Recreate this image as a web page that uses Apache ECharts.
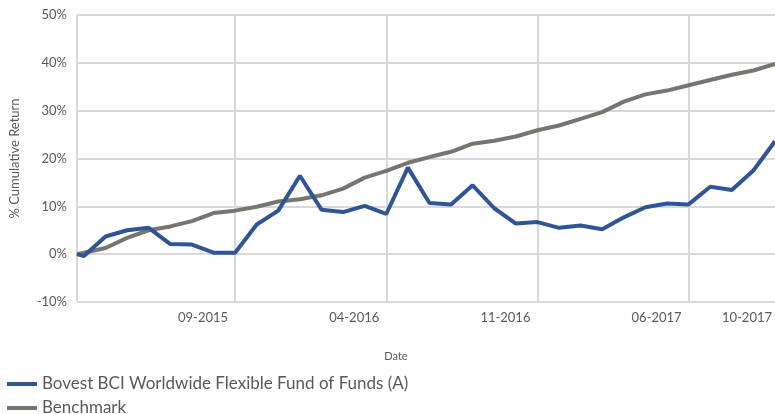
<!DOCTYPE html>
<html>
<head>
<meta charset="utf-8">
<script src="https://cdn.jsdelivr.net/npm/echarts@6/dist/echarts.min.js"></script>
<style>
  html, body { margin: 0; padding: 0; background: #ffffff; }
  #chart { width: 775px; height: 414px; }
</style>
</head>
<body>
<div id="chart"></div>
<script>
// Valuation dates (launch date, then month ends)
const dates = [
  '2015-02-19', '2015-02-28', '2015-03-31', '2015-04-30', '2015-05-31', '2015-06-30',
  '2015-07-31', '2015-08-31', '2015-09-30', '2015-10-31', '2015-11-30', '2015-12-31',
  '2016-01-31', '2016-02-29', '2016-03-31', '2016-04-30', '2016-05-31', '2016-06-30',
  '2016-07-31', '2016-08-31', '2016-09-30', '2016-10-31', '2016-11-30', '2016-12-31',
  '2017-01-31', '2017-02-28', '2017-03-31', '2017-04-30', '2017-05-31', '2017-06-30',
  '2017-07-31', '2017-08-31', '2017-09-30', '2017-10-31'
];

// Cumulative returns, %
const fundReturns = [
  0, -0.4, 3.7, 5.0, 5.5, 2.1, 2.0, 0.3, 0.3, 6.2, 9.1, 16.4,
  9.3, 8.8, 10.1, 8.4, 18.1, 10.7, 10.4, 14.4, 9.6, 6.4, 6.7, 5.5,
  6.0, 5.2, 7.7, 9.8, 10.6, 10.4, 14.1, 13.4, 17.5, 23.6
];
const benchmarkReturns = [
  0, 0.3, 1.3, 3.4, 5.0, 5.8, 6.9, 8.6, 9.1, 9.9, 11.0, 11.5,
  12.3, 13.7, 16.0, 17.4, 19.1, 20.3, 21.4, 23.1, 23.7, 24.6, 25.9, 26.9,
  28.3, 29.7, 31.9, 33.4, 34.2, 35.3, 36.4, 37.5, 38.4, 39.8
];

// Dates marked on the horizontal axis
const tickDates = ['2015-09-30', '2016-04-30', '2016-11-30', '2017-06-30', '2017-10-31'];
const tickLabels = ['09-2015', '04-2016', '11-2016', '06-2017', '10-2017'];

const seriesNames = ['Bovest BCI Worldwide Flexible Fund of Funds (A)', 'Benchmark'];

// Convert a date to a position in months (fraction of month by day)
function monthPos(s) {
  const [y, m, d] = s.split('-').map(Number);
  const dim = new Date(y, m, 0).getDate();
  return (y - 2015) * 12 + (m - 1) + d / dim;
}

const xs = dates.map(monthPos);
const tickXs = tickDates.map(monthPos);
const gridXs = [xs[0]].concat(tickXs.slice(0, 4));

const fundData = xs.map((x, i) => [x, fundReturns[i]]);
const benchData = xs.map((x, i) => [x, benchmarkReturns[i]]);

const gridColor = '#d9d9d9';
const textColor = '#595959';
const font = 'Lato, "Open Sans", sans-serif';

const chart = echarts.init(document.getElementById('chart'), null, { renderer: 'canvas' });

chart.setOption({
  animation: false,
  textStyle: { fontFamily: font },
  grid: { left: 76, right: 0, top: 15, bottom: 112, containLabel: false },
  legend: {
    orient: 'vertical',
    left: 7,
    top: 372,
    height: 120,
    padding: 0,
    itemWidth: 30,
    itemHeight: 4,
    itemGap: 0,
    icon: 'rect',
    data: seriesNames,
    textStyle: { fontSize: 17, lineHeight: 16, color: textColor, fontFamily: font, padding: [0, 0, 8, 0] }
  },
  xAxis: {
    type: 'value',
    min: xs[0],
    max: xs[xs.length - 1],
    name: 'Date',
    nameLocation: 'middle',
    nameGap: 49,
    nameTextStyle: { fontSize: 11, color: textColor, padding: [0, 60, 0, 0] },
    axisLine: { show: true, lineStyle: { color: gridColor, width: 2 } },
    axisTick: {
      show: true,
      inside: false,
      length: 18,
      customValues: gridXs,
      lineStyle: { color: gridColor, width: 2 }
    },
    splitLine: { show: true, lineStyle: { color: gridColor, width: 2 } },
    axisLabel: {
      customValues: tickXs,
      margin: 9,
      fontSize: 13,
      color: textColor,
      align: 'right',
      formatter: function (v) {
        let k = 0, best = Infinity;
        tickXs.forEach((t, i) => { const dd = Math.abs(t - v); if (dd < best) { best = dd; k = i; } });
        return k === tickXs.length - 1 ? '{b|' + tickLabels[k] + '}' : '{a|' + tickLabels[k] + '}';
      },
      rich: {
        a: { fontSize: 13, color: textColor, padding: [0, 7, 0, 0] },
        b: { fontSize: 13, color: textColor, padding: [0, 3, 0, 0] }
      }
    }
  },
  yAxis: {
    type: 'value',
    min: -10,
    max: 50,
    interval: 10,
    name: '% Cumulative Return',
    nameLocation: 'middle',
    nameGap: 56,
    nameRotate: 90,
    nameTextStyle: { fontSize: 13, color: textColor },
    axisLine: { show: false },
    axisTick: { show: false },
    splitLine: { show: true, lineStyle: { color: gridColor, width: 2 } },
    axisLabel: { margin: 10, fontSize: 13, color: textColor, formatter: '{value}%' }
  },
  series: [
    {
      name: seriesNames[1],
      type: 'line',
      data: benchData,
      showSymbol: false,
      symbol: 'none',
      z: 2,
      lineStyle: { color: '#787570', width: 4 },
      itemStyle: { color: '#787570' }
    },
    {
      name: seriesNames[0],
      type: 'line',
      data: fundData,
      showSymbol: false,
      symbol: 'none',
      z: 3,
      lineStyle: { color: '#2f5597', width: 4 },
      itemStyle: { color: '#2f5597' }
    }
  ]
});
</script>
</body>
</html>
